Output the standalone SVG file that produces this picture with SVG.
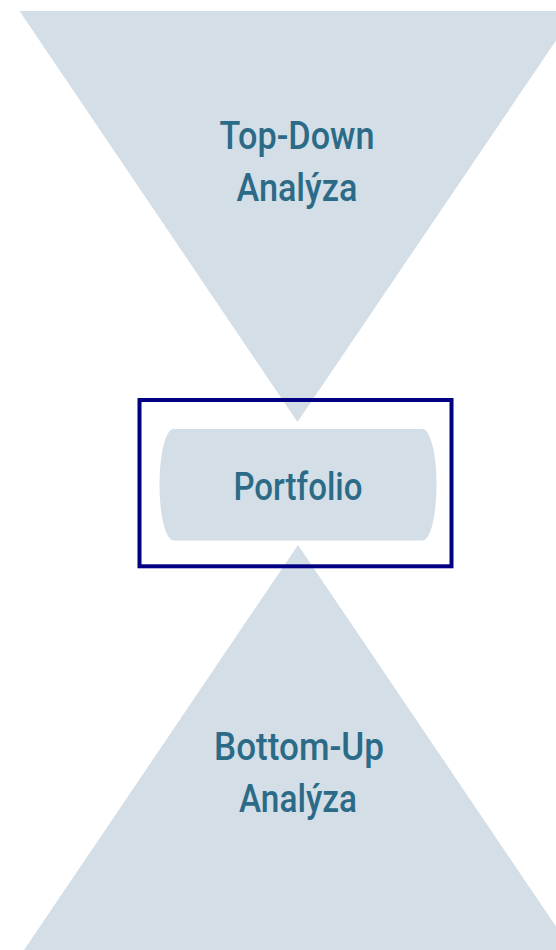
<svg xmlns="http://www.w3.org/2000/svg" width="556" height="950" viewBox="0 0 556 950">
<style>
.tri{fill:#D4DEE7;stroke:none}
.pill{fill:#D4DEE7;stroke:none}
.frame{fill:none;stroke:#000080;stroke-width:4}
.lbl{font-family:Roboto,"Liberation Sans",sans-serif;font-weight:500;font-size:38px;fill:#2C6B88;text-anchor:middle}
</style>
<rect width="556" height="950" fill="#FFFFFF"/>
<g id="top-down">
<polygon class="tri" points="19.5,11 576,11 297.5,422"/>
<text class="lbl" x="297" y="149" textLength="155" lengthAdjust="spacingAndGlyphs">Top-Down</text>
<text class="lbl" x="297" y="201" textLength="121" lengthAdjust="spacingAndGlyphs">Analýza</text>
</g>
<g id="bottom-up">
<polygon class="tri" points="298,545 576,956 20,956"/>
<text class="lbl" x="299" y="760" textLength="170" lengthAdjust="spacingAndGlyphs">Bottom-Up</text>
<text class="lbl" x="298" y="812" textLength="118" lengthAdjust="spacingAndGlyphs">Analýza</text>
</g>
<g id="portfolio">
<rect class="frame" x="139.5" y="400" width="312" height="166.3"/>
<rect class="pill" x="159.5" y="429" width="277" height="111.5" rx="14" ry="55"/>
<text class="lbl" x="298" y="499.5" textLength="129" lengthAdjust="spacingAndGlyphs">Portfolio</text>
</g>
<g id="connectors"></g>
</svg>
